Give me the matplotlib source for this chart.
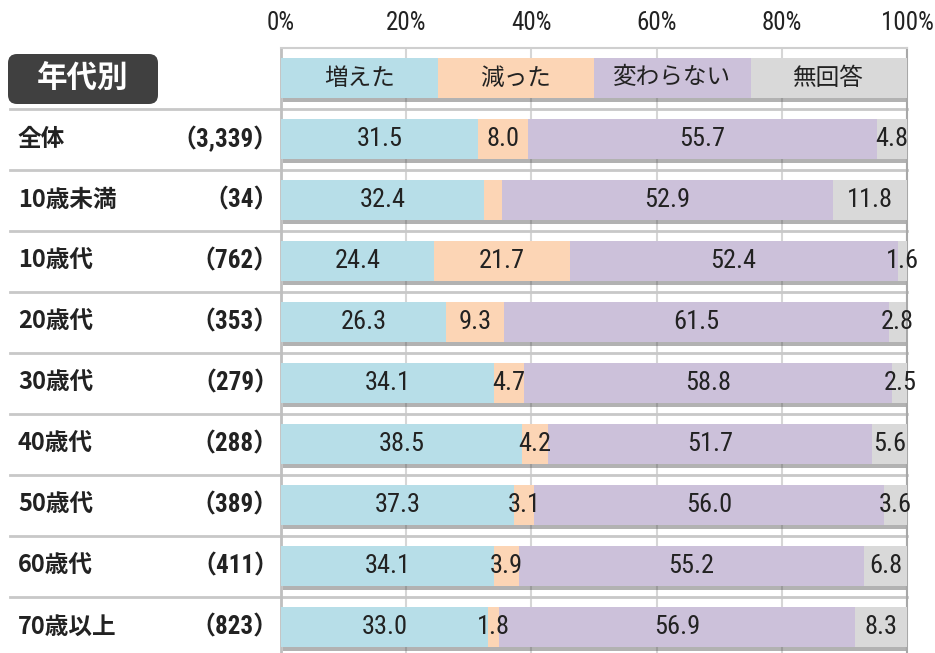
import numpy as np
import matplotlib
matplotlib.use("Agg")
import matplotlib.pyplot as plt
from matplotlib import transforms, patheffects as pe
from matplotlib import font_manager as fm
from matplotlib.patches import FancyBboxPatch

# ---- data -------------------------------------------------------------
groups = ["全体", "10歳未満", "10歳代", "20歳代", "30歳代",
          "40歳代", "50歳代", "60歳代", "70歳以上"]
counts = ["3,339", "34", "762", "353", "279", "288", "389", "411", "823"]

series_names = ["増えた", "減った", "変わらない", "無回答"]
increased = [31.5, 32.4, 24.4, 26.3, 34.1, 38.5, 37.3, 34.1, 33.0]
decreased = [8.0, 2.9, 21.7, 9.3, 4.7, 4.2, 3.1, 3.9, 1.8]
unchanged = [55.7, 52.9, 52.4, 61.5, 58.8, 51.7, 56.0, 55.2, 56.9]
no_answer = [4.8, 11.8, 1.6, 2.8, 2.5, 5.6, 3.6, 6.8, 8.3]

# segments left without a printed value (group, series index)
unlabeled = {("10歳未満", 1)}

xticks = [0, 20, 40, 60, 80, 100]
xticklabels = ["0%", "20%", "40%", "60%", "80%", "100%"]

colors = ["#B7DEE8", "#FCD5B5", "#CCC1DA", "#D9D9D9"]

# ---- fonts ------------------------------------------------------------
available = {f.name for f in fm.fontManager.ttflist}


def pick(cands, default):
    return next((c for c in cands if c in available), default)


JP = "Noto Sans CJK JP"
NARROW = pick(["Roboto Condensed", "Liberation Sans Narrow",
               "Open Sans Condensed", "DejaVu Sans Condensed"], JP)
plt.rcParams["font.family"] = [JP, "DejaVu Sans"]

TXT = "#222222"

# ---- figure / axes ----------------------------------------------------
W, H = 935, 653
fig = plt.figure(figsize=(W / 100, H / 100), dpi=100)
ax = fig.add_axes([281 / W, 0, 626 / W, 605 / H])
ax.set_xlim(0, 100)
ax.set_ylim(9.426, -0.492)

ax.set_xticks(xticks)
ax.set_xticklabels(xticklabels, fontfamily=NARROW)
ax.xaxis.tick_top()
ax.tick_params(axis="x", length=0, pad=9, labelsize=18, labelcolor=TXT)
ax.set_yticks([])
ax.grid(axis="x", color="#d6d6d6", lw=1.5)
ax.set_axisbelow(True)

ax.spines["bottom"].set_visible(False)
ax.spines["left"].set_color("#bfbfbf")
ax.spines["left"].set_linewidth(2)
ax.spines["top"].set_color("#cfcfcf")
ax.spines["top"].set_linewidth(1.5)
ax.spines["right"].set_color("#a8a8a8")
ax.spines["right"].set_linewidth(1.5)

ys = np.arange(1, len(groups) + 1)
bar_h = 0.656

# row separators running across label column and plot
sep_tr = transforms.blended_transform_factory(ax.transAxes, ax.transData)
for i in range(len(groups)):
    ax.plot([-0.433, 1.0], [i + 0.5, i + 0.5], transform=sep_tr,
            color="#c8c8c8", lw=2, clip_on=False, zorder=1)

shadow = [pe.SimplePatchShadow(offset=(1.5, -3), shadow_rgbFace="#555555",
                               alpha=0.45), pe.Normal()]

# shadowed backing bars (header row + data rows)
back = ax.barh(np.arange(0, len(groups) + 1), 100, height=bar_h,
               color="white", zorder=2)
for p in back:
    p.set_path_effects(shadow)

# header row: series names in equal blocks
block = 100 / len(series_names)
for k, name in enumerate(series_names):
    ax.barh(0, block, left=k * block, height=bar_h, color=colors[k], zorder=3)
    ax.text(k * block + block / 2, 0, name, ha="center", va="center",
            fontsize=17, color=TXT, zorder=5)

# stacked data bars with value labels
table = np.array([increased, decreased, unchanged, no_answer])
left = np.zeros(len(groups))
for k in range(len(series_names)):
    vals = table[k]
    ax.barh(ys, vals, left=left, height=bar_h, color=colors[k], zorder=3)
    for g, y, l, v in zip(groups, ys, left, vals):
        if (g, k) in unlabeled:
            continue
        ax.text(l + v / 2, y, f"{v:.1f}", ha="center", va="center",
                fontsize=19, fontfamily=NARROW, color=TXT, zorder=5)
    left = left + vals

# label column
lab_tr = transforms.blended_transform_factory(fig.dpi_scale_trans, ax.transData)
for g, c, y in zip(groups, counts, ys):
    fig.text(0.18, y, g, transform=lab_tr, ha="left", va="center",
             fontsize=17, fontweight="bold", color=TXT)
    fig.text(2.79, y, f"（{c}）", transform=lab_tr, ha="right", va="center",
             fontsize=18, fontweight="bold", color=TXT,
             fontfamily=[NARROW, JP])

# section badge
badge = FancyBboxPatch((0.08, (H - 104) / 100), 1.50, 0.50,
                       boxstyle="round,pad=0,rounding_size=0.09",
                       transform=fig.dpi_scale_trans,
                       facecolor="#404040", edgecolor="none")
fig.add_artist(badge)
fig.text(0.83, 0, "年代別", transform=lab_tr, ha="center", va="center",
         fontsize=22, fontweight="bold", color="white")

fig.savefig("out.png", dpi=100)
